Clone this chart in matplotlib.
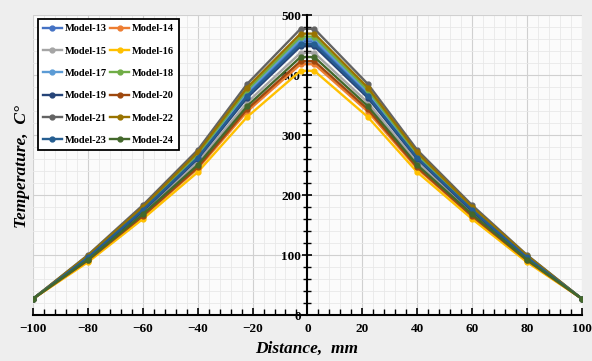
"""
Temperature distribution along the distance for Model-13 … Model-24.
"""

import matplotlib
matplotlib.use("Agg")
import matplotlib.pyplot as plt
from matplotlib.ticker import MultipleLocator

# ---------------------------------------------------------------------------
# data
# ---------------------------------------------------------------------------

DISTANCE = [-100, -80, -60, -40, -22, -2.5, 2.5, 22, 40, 60, 80, 100]

MODEL_NAMES = [f"Model-{i}" for i in range(13, 25)]

# half profiles from the edge (-100) up to the peak; mirrored for the right side
HALF_PROFILES = {
    "Model-13": [27, 96, 176, 264, 369, 456],
    "Model-14": [27, 90, 164, 244, 339, 418],
    "Model-15": [27, 93, 170, 254, 354, 437],
    "Model-16": [27, 88, 160, 238, 330, 407],
    "Model-17": [27, 97, 177, 266, 372, 460],
    "Model-18": [27, 98, 179, 268, 375, 464],
    "Model-19": [27, 95, 173, 260, 362, 448],
    "Model-20": [27, 91, 165, 246, 343, 423],
    "Model-21": [27, 100, 183, 275, 385, 477],
    "Model-22": [27, 99, 180, 271, 379, 469],
    "Model-23": [27, 96, 175, 262, 365, 452],
    "Model-24": [27, 92, 168, 250, 348, 430],
}

COLORS = [
    "#4472C4", "#ED7D31", "#A5A5A5", "#FFC000", "#5B9BD5", "#70AD47",
    "#264478", "#9E480E", "#636363", "#997300", "#255E91", "#43682B",
]

plt.rcParams["font.family"] = ["Liberation Serif", "DejaVu Serif"]

AX_RECT = [0.0557, 0.1274, 0.9273, 0.8310]

fig = plt.figure(figsize=(5.92, 3.61), dpi=100, facecolor="#eeeeee")

# background axes only carries the grid, so tick labels can sit above the lines
bg = fig.add_axes(AX_RECT, zorder=0)
bg.set_facecolor("#fbfbfb")
bg.set_xlim(-100, 100)
bg.set_ylim(0, 500)
bg.xaxis.set_major_locator(MultipleLocator(20))
bg.xaxis.set_minor_locator(MultipleLocator(4))
bg.yaxis.set_major_locator(MultipleLocator(100))
bg.yaxis.set_minor_locator(MultipleLocator(20))
bg.grid(which="major", color="#d0d0d0", lw=0.8)
bg.grid(which="minor", color="#e8e8e8", lw=0.6)
bg.tick_params(which="both", length=0, labelbottom=False, labelleft=False)
for sp in bg.spines.values():
    sp.set_visible(False)

ax = fig.add_axes(AX_RECT, zorder=1)
ax.patch.set_visible(False)

handles = []
for name, color in zip(MODEL_NAMES, COLORS):
    half = HALF_PROFILES[name]
    temps = half + half[::-1]
    (line,) = ax.plot(DISTANCE, temps, color=color, lw=1.7, marker="o",
                      ms=3.5, label=name, zorder=2)
    handles.append(line)

ax.set_xlim(-100, 100)
ax.set_ylim(0, 500)

ax.xaxis.set_major_locator(MultipleLocator(20))
ax.xaxis.set_minor_locator(MultipleLocator(4))
ax.yaxis.set_major_locator(MultipleLocator(100))
ax.yaxis.set_minor_locator(MultipleLocator(20))

ax.spines["left"].set_position(("data", 0))
ax.spines["top"].set_visible(False)
ax.spines["right"].set_visible(False)
for side in ("left", "bottom"):
    ax.spines[side].set_linewidth(1.5)
    ax.spines[side].set_zorder(4)

ax.tick_params(axis="x", which="major", direction="in", length=5, width=1.2,
               labelsize=9.5, pad=6)
ax.tick_params(axis="x", which="minor", direction="in", length=4, width=1.0)
ax.tick_params(axis="y", which="major", direction="inout", length=7, width=1.2,
               labelsize=9.5, pad=1)
ax.tick_params(axis="y", which="minor", direction="inout", length=6, width=1.0)
for lab in ax.get_xticklabels() + ax.get_yticklabels():
    lab.set_fontweight("bold")

fig.text(0.5186, 0.012, "Distance,  mm", ha="center", va="bottom",
         fontsize=12.5, fontweight="bold", style="italic")
fig.text(0.037, 0.54, "Temperature,  C°", ha="center", va="center",
         rotation=90, fontsize=12.5, fontweight="bold", style="italic")

# legend is filled row by row: 13 14 / 15 16 / ...
order = list(range(0, 12, 2)) + list(range(1, 12, 2))
leg = ax.legend(
    [handles[i] for i in order],
    [MODEL_NAMES[i] for i in order],
    ncol=2,
    loc="upper left",
    bbox_to_anchor=(0.064, 0.948),
    bbox_transform=fig.transFigure,
    prop={"weight": "bold", "size": 7.5},
    frameon=True,
    fancybox=False,
    edgecolor="black",
    framealpha=1,
    handlelength=1.8,
    handletextpad=0.25,
    columnspacing=0.35,
    labelspacing=1.25,
    borderpad=0.5,
    borderaxespad=0,
)
leg.get_frame().set_linewidth(1.3)
leg.set_zorder(5)

fig.savefig("out.png", dpi=100, facecolor=fig.get_facecolor())
